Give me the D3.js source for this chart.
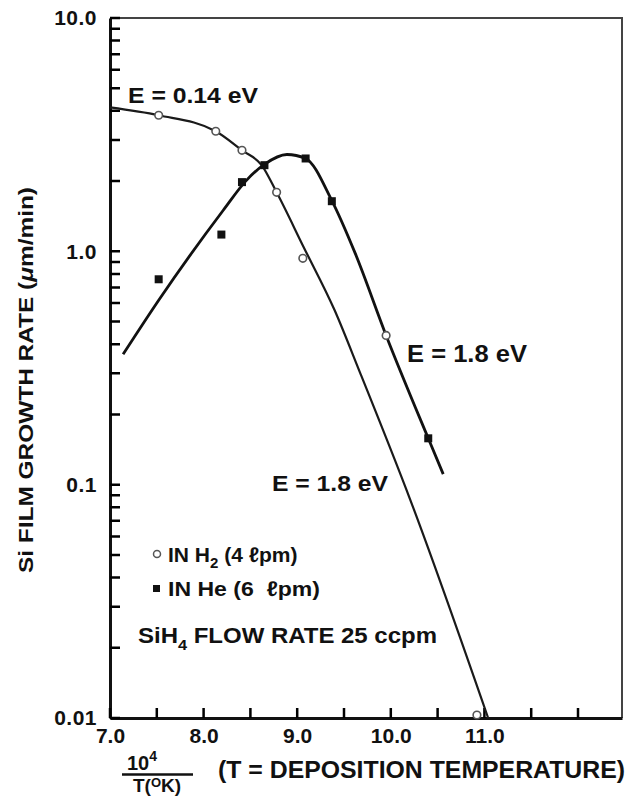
<!DOCTYPE html>
<html>
<head>
<meta charset="utf-8">
<script src="https://cdn.jsdelivr.net/npm/d3@7"></script>
<style>
  html, body { margin: 0; padding: 0; background: #fff; }
  svg text { font-family: "Liberation Sans", Arial, sans-serif; font-weight: bold; fill: #111; }
</style>
</head>
<body>
<div id="chart"></div>
<script>
// Data: x = 10^4 / T(K), y = growth rate (um/min)
const h2Points = [[7.52, 3.83], [8.13, 3.27], [8.41, 2.71], [8.78, 1.79], [9.06, 0.933], [9.95, 0.436], [10.92, 0.0103]];
const hePoints = [[7.52, 0.759], [8.19, 1.18], [8.41, 1.98], [8.65, 2.34], [9.09, 2.5], [9.37, 1.64], [10.40, 0.158]];

// fitted curves
const h2Fit = [[7.0, 4.14], [7.52, 3.83], [8.13, 3.27], [8.41, 2.71], [8.62, 2.34], [8.78, 1.79], [9.06, 1.06],
               [9.40, 0.559], [9.67, 0.303], [10.21, 0.0857], [11.04, 0.01]];
const heFit = [[7.14, 0.362], [7.52, 0.617], [8.21, 1.50], [8.45, 2.0], [8.65, 2.36], [8.89, 2.60], [9.09, 2.50],
               [9.37, 1.65], [9.62, 0.98], [9.95, 0.436], [10.40, 0.158], [10.56, 0.111]];

// axes
const xTicks = [7.0, 7.5, 8.0, 8.5, 9.0, 9.5, 10.0, 10.5, 11.0, 11.5, 12.0];
const xLabelValues = [7, 8, 9, 10, 11];
const xLabelText = ['7.0', '8.0', '9.0', '10.0', '11.0'];
const yLabelValues = [0.01, 0.1, 1, 10];
const yLabelText = ['0.01', '0.1', '1.0', '10.0'];

const W = 631, H = 799;
const plot = { left: 110, right: 622, top: 18, bottom: 718 };
const tickLen = 10;

const svg = d3.select('#chart').append('svg')
    .attr('width', W)
    .attr('height', H);

svg.append('rect').attr('width', W).attr('height', H).attr('fill', '#fff');

const x = d3.scaleLinear().domain([7, 12.47]).range([plot.left, plot.right]);
const y = d3.scaleLog().domain([0.01, 10]).range([plot.bottom, plot.top]);

// frame (top and right)
svg.append('path')
    .attr('d', `M${plot.left},${plot.top}H${plot.right}V${plot.bottom}`)
    .attr('fill', 'none')
    .attr('stroke', '#444')
    .attr('stroke-width', 2);

// y axis labels
const yAxis = d3.axisLeft(y)
    .tickValues(yLabelValues)
    .tickSize(0)
    .tickPadding(13)
    .tickFormat((d, i) => yLabelText[i]);

const gy = svg.append('g')
    .attr('transform', `translate(${plot.left},0)`)
    .call(yAxis);
gy.select('.domain').attr('stroke', '#111').attr('stroke-width', 3);
gy.selectAll('.tick text')
    .style('font-size', '21px')
    .style('letter-spacing', '0.5px')
    .attr('fill', '#111');

// x axis labels
const xAxis = d3.axisBottom(x)
    .tickValues(xLabelValues)
    .tickSize(0)
    .tickPadding(10)
    .tickFormat((d, i) => xLabelText[i]);

const gx = svg.append('g')
    .attr('transform', `translate(0,${plot.bottom})`)
    .call(xAxis);
gx.select('.domain').attr('stroke', '#111').attr('stroke-width', 3);
gx.selectAll('.tick text')
    .style('font-size', '21px')
    .attr('fill', '#111');

// tick marks, pointing into the plot (drawn as one path each)
const yTickValues = y.ticks();
svg.append('path')
    .attr('d', yTickValues.map(d => `M${plot.left},${y(d)}h${tickLen}`).join(''))
    .attr('fill', 'none')
    .attr('stroke', '#000')
    .attr('stroke-width', 2.5);

svg.append('path')
    .attr('d', xTicks.map(d => `M${x(d)},${plot.bottom}v${-tickLen}`).join(''))
    .attr('fill', 'none')
    .attr('stroke', '#000')
    .attr('stroke-width', 2.5);

// fitted lines
const line = d3.line()
    .x(d => x(d[0]))
    .y(d => y(d[1]))
    .curve(d3.curveMonotoneX);

svg.append('path')
    .datum(h2Fit)
    .attr('d', line)
    .attr('fill', 'none')
    .attr('stroke', '#1a1a1a')
    .attr('stroke-width', 2.2);

svg.append('path')
    .datum(heFit)
    .attr('d', line)
    .attr('fill', 'none')
    .attr('stroke', '#111')
    .attr('stroke-width', 2.8);

// markers
svg.selectAll('.h2')
    .data(h2Points)
    .enter()
    .append('circle')
    .attr('class', 'h2')
    .attr('cx', d => x(d[0]))
    .attr('cy', d => y(d[1]))
    .attr('r', 3.8)
    .attr('fill', '#fff')
    .attr('stroke', '#555')
    .attr('stroke-width', 1.6);

svg.selectAll('.he')
    .data(hePoints)
    .enter()
    .append('rect')
    .attr('class', 'he')
    .attr('x', d => x(d[0]) - 4)
    .attr('y', d => y(d[1]) - 4)
    .attr('width', 8)
    .attr('height', 8)
    .attr('fill', '#111');

// annotations
function label(tx, ty, txt, size, width) {
    const t = svg.append('text')
        .attr('x', tx)
        .attr('y', ty)
        .style('font-size', size + 'px')
        .text(txt);
    if (width) t.attr('textLength', width).attr('lengthAdjust', 'spacingAndGlyphs');
    return t;
}

label(128, 103, 'E = 0.14 eV', 22, 130);
label(407, 362, 'E = 1.8 eV', 23, 120);
label(272, 491, 'E = 1.8 eV', 22, 116);

// legend
svg.append('circle')
    .attr('cx', 157).attr('cy', 554).attr('r', 3.5)
    .attr('fill', '#fff').attr('stroke', '#555').attr('stroke-width', 1.5);
const l1 = svg.append('text').attr('x', 168).attr('y', 562).style('font-size', '21px');
l1.append('tspan').text('IN H');
l1.append('tspan').attr('dy', 6).style('font-size', '15px').text('2');
l1.append('tspan').attr('dy', -6).text(' (4 ℓpm)');

svg.append('rect')
    .attr('x', 153).attr('y', 585).attr('width', 7).attr('height', 7)
    .attr('fill', '#111');
label(168, 596, 'IN He (6  ℓpm)', 21, 152).style('white-space', 'pre');

const l3 = svg.append('text').attr('x', 138).attr('y', 643).style('font-size', '22px');
l3.append('tspan').text('SiH');
l3.append('tspan').attr('dy', 7).style('font-size', '15px').text('4');
l3.append('tspan').attr('dy', -7).text(' FLOW RATE 25 ccpm');
l3.attr('textLength', 299).attr('lengthAdjust', 'spacingAndGlyphs');

// y axis title
const yt = svg.append('text')
    .attr('transform', 'translate(33,380) rotate(-90)')
    .attr('text-anchor', 'middle')
    .style('font-size', '20px')
    .attr('textLength', 386)
    .attr('lengthAdjust', 'spacingAndGlyphs');
yt.append('tspan').text('Si FILM GROWTH RATE (');
yt.append('tspan').style('font-style', 'italic').text('μ');
yt.append('tspan').text('m/min)');

// x axis title: fraction 10^4 / T(K)
const fr = svg.append('text').attr('x', 127).attr('y', 770).style('font-size', '20px');
fr.append('tspan').text('10');
fr.append('tspan').attr('dy', -9).style('font-size', '14px').text('4');

svg.append('line')
    .attr('x1', 122).attr('x2', 193)
    .attr('y1', 774.5).attr('y2', 774.5)
    .attr('stroke', '#111').attr('stroke-width', 2.5);

const tk = svg.append('text').attr('x', 157).attr('y', 792)
    .attr('text-anchor', 'middle').style('font-size', '19px');
tk.append('tspan').text('T(');
tk.append('tspan').attr('dy', -5).style('font-size', '13px').text('O');
tk.append('tspan').attr('dy', 5).text('K)');

label(218, 778, '(T = DEPOSITION TEMPERATURE)', 24, 407);
</script>
</body>
</html>
